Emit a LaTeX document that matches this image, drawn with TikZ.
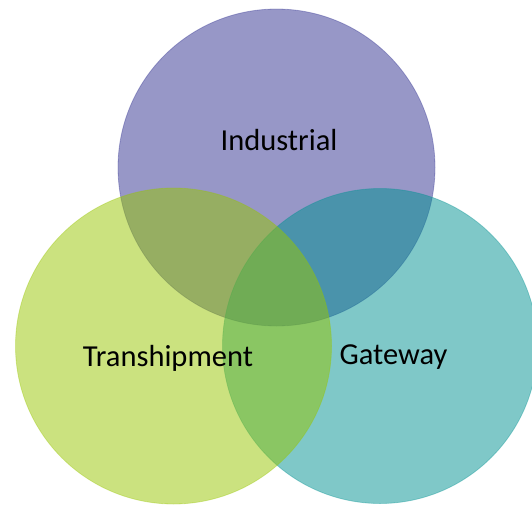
\documentclass[tikz,border=0pt]{standalone}
\usepackage{fontspec}
\setmainfont{Carlito}
\definecolor{indcol}{RGB}{47,47,143}
\definecolor{gatecol}{RGB}{0,145,145}
\definecolor{trancol}{RGB}{151,197,0}
\tikzset{
  venn/.style={circle, inner sep=0pt, outer sep=0pt,
    fill=#1, draw=#1, fill opacity=0.5, draw opacity=0.35, line width=0.8pt},
  vlabel/.style={anchor=base, font=\fontsize{30.5}{36}\selectfont, text=black, inner sep=0pt}
}
\begin{document}
\begin{tikzpicture}[x=1pt,y=-1pt]
\useasboundingbox (0,0) rectangle (532,506);
\clip (0,0) rectangle (532,506);
\node[venn=indcol, minimum size=317pt] (ind) at (276.5,167.5) {};
\node[venn=gatecol, minimum size=315pt] (gate) at (380,346) {};
\node[venn=trancol, minimum size=316pt] (tran) at (173.5,346) {};
\node[vlabel] (tind) at (279,150) {Industrial};
\node[vlabel] (ttran) at (168,366) {Transhipment};
\node[vlabel] (tgate) at (393.5,364) {Gateway};
\end{tikzpicture}
\end{document}
